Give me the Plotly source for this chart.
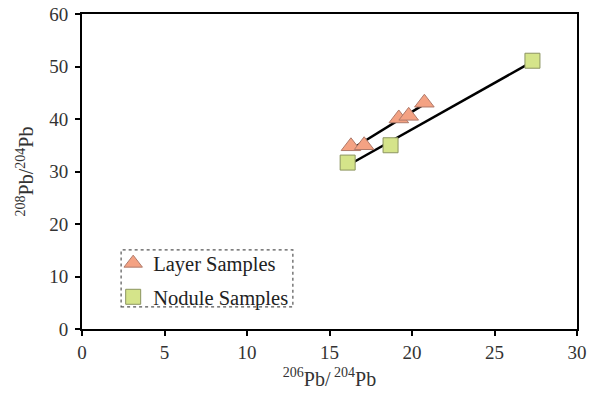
import numpy as np
import plotly.graph_objects as go

layer_x = [16.3, 17.1, 19.2, 19.8, 20.75]
layer_y = [34.8, 35.0, 40.1, 40.6, 43.1]
nodule_x = [16.1, 18.7, 27.3]
nodule_y = [31.7, 35.0, 51.1]

x_ticks = [0, 5, 10, 15, 20, 25, 30]
y_ticks = [0, 10, 20, 30, 40, 50, 60]

FONT = "Liberation Serif"

def fit_line(xs, ys):
    m, b = np.polyfit(xs, ys, 1)
    x0, x1 = min(xs), max(xs)
    return [x0, x1], [m * x0 + b, m * x1 + b]

fig = go.Figure()

lx, ly = fit_line(layer_x, layer_y)
nx, ny = fit_line(nodule_x, nodule_y)
fig.add_trace(go.Scatter(x=lx, y=ly, mode="lines", line=dict(color="black", width=2.5),
                         showlegend=False, hoverinfo="skip"))
fig.add_trace(go.Scatter(x=nx, y=ny, mode="lines", line=dict(color="black", width=2.5),
                         showlegend=False, hoverinfo="skip"))

fig.add_trace(go.Scatter(x=layer_x, y=layer_y, mode="markers", name="Layer Samples",
                         legendgroup="a",
                         marker=dict(symbol="triangle-up", size=17, color="#F4A283",
                                     line=dict(color="#B07A6A", width=1))))
fig.add_trace(go.Scatter(x=nodule_x, y=nodule_y, mode="markers", name="Nodule Samples",
                         legendgroup="b",
                         marker=dict(symbol="square", size=15, color="#D5E48A",
                                     line=dict(color="#8C9460", width=1))))

# dotted legend frame
fig.add_shape(type="rect", xref="paper", yref="paper",
              x0=0.079, x1=0.426, y0=0.07, y1=0.251,
              line=dict(color="#555555", width=1.2, dash="dot"))

axis_common = dict(
    showline=True, linecolor="black", linewidth=2, mirror=True,
    ticks="outside", ticklen=5, tickwidth=2, tickcolor="black",
    showgrid=False, zeroline=False,
    tickfont=dict(family=FONT, size=19, color="#333333"),
)

fig.update_xaxes(range=[0, 30], tickvals=x_ticks, **axis_common,
                 title=dict(text="<sup>206</sup>Pb/<sup> 204</sup>Pb",
                            font=dict(family=FONT, size=20, color="#333333"), standoff=10))
fig.update_yaxes(range=[0, 60], tickvals=y_ticks, **axis_common, ticklabelstandoff=3,
                 title=dict(text="<sup>208</sup>Pb/<sup>204</sup>Pb",
                            font=dict(family=FONT, size=20, color="#333333"), standoff=10))

fig.update_layout(
    width=594, height=401,
    margin=dict(l=82, r=17, t=14, b=72, autoexpand=False),
    paper_bgcolor="white", plot_bgcolor="white",
    legend=dict(x=0.063, y=0.272, xanchor="left", yanchor="top",
                bgcolor="rgba(0,0,0,0)", borderwidth=0,
                font=dict(family=FONT, size=20.5, color="#222222"),
                itemwidth=30, traceorder="grouped", tracegroupgap=4),
)

fig.write_html("out.html", config={"displayModeBar": False},
               post_script="document.body.style.margin='0';document.body.style.overflow='hidden';")
